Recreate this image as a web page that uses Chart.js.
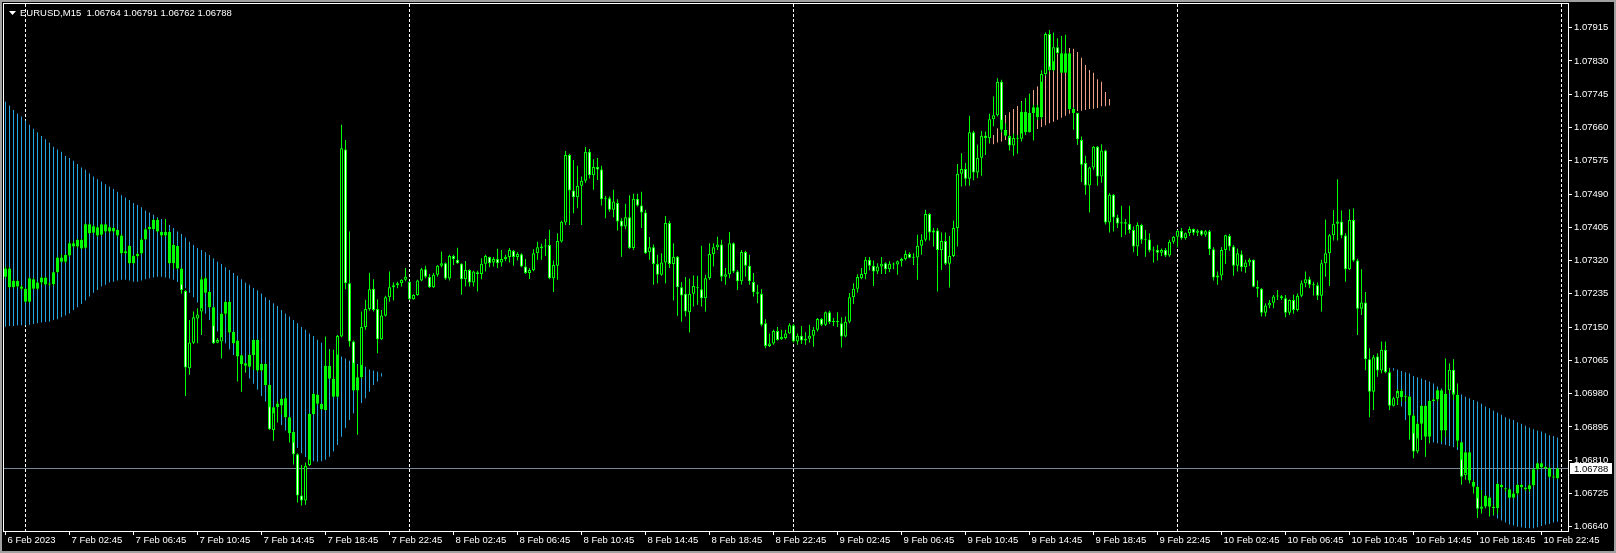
<!DOCTYPE html>
<html><head><meta charset="utf-8">
<script src="https://cdn.jsdelivr.net/npm/chart.js@4.4.1/dist/chart.umd.min.js"></script>
<style>html,body{margin:0;padding:0;background:#000;overflow:hidden}#wrap{width:1616px;height:553px}</style>
</head><body><div id="wrap"><canvas id="c" width="1616" height="553"></canvas></div>
<script>
// ---------------- DATA ----------------
const symbolName = 'EURUSD,M15';
const headerOHLC = [1.06764, 1.06791, 1.06762, 1.06788];
const bidPrice = 1.06788;

const priceTicks = [1.07915,1.07830,1.07745,1.07660,1.07575,1.07490,1.07405,1.07320,1.07235,1.07150,1.07065,1.06980,1.06895,1.06810,1.06725,1.06640];
const timeTickBars = [0,16,32,48,64,80,96,112,128,144,160,176,192,208,224,240,256,272,288,304,320,336,352,368,384];
const timeTickLabels = ['6 Feb 2023','7 Feb 02:45','7 Feb 06:45','7 Feb 10:45','7 Feb 14:45','7 Feb 18:45','7 Feb 22:45','8 Feb 02:45','8 Feb 06:45','8 Feb 10:45','8 Feb 14:45','8 Feb 18:45','8 Feb 22:45','9 Feb 02:45','9 Feb 06:45','9 Feb 10:45','9 Feb 14:45','9 Feb 18:45','9 Feb 22:45','10 Feb 02:45','10 Feb 06:45','10 Feb 10:45','10 Feb 14:45','10 Feb 18:45','10 Feb 22:45'];
const daySeparatorBars = [5,101,197,293,389];

const opens = [
1.07279,1.07300,1.07252,1.07268,1.07254,1.07248,1.07215,1.07272,1.07248,1.07264,
1.07277,1.07259,1.07260,1.07290,1.07328,1.07317,1.07333,1.07364,1.07356,1.07373,
1.07353,1.07413,1.07391,1.07405,1.07386,1.07413,1.07394,1.07403,1.07398,1.07384,
1.07339,1.07358,1.07313,1.07332,1.07338,1.07374,1.07400,1.07401,1.07424,1.07393,
1.07384,1.07393,1.07313,1.07357,1.07300,1.07242,1.07045,1.07110,1.07172,1.07190,
1.07275,1.07240,1.07201,1.07110,1.07113,1.07184,1.07214,1.07138,1.07116,1.07078,
1.07058,1.07049,1.07079,1.07117,1.07039,1.07056,1.07002,1.06887,1.06945,1.06950,
1.06968,1.06920,1.06882,1.06825,1.06720,1.06707,1.06798,1.06928,1.06977,1.06954,
1.06938,1.07051,1.07018,1.06972,1.07126,1.07604,1.07262,1.07113,1.06988,1.07022,
1.07150,1.07196,1.07248,1.07196,1.07119,1.07179,1.07226,1.07252,1.07257,1.07262,
1.07271,1.07266,1.07221,1.07232,1.07269,1.07298,1.07279,1.07252,1.07284,1.07307,
1.07313,1.07274,1.07332,1.07322,1.07312,1.07272,1.07296,1.07264,1.07290,1.07286,
1.07312,1.07329,1.07315,1.07324,1.07315,1.07324,1.07329,1.07345,1.07329,1.07336,
1.07305,1.07288,1.07295,1.07339,1.07352,1.07356,1.07360,1.07275,1.07307,1.07369,
1.07417,1.07590,1.07499,1.07482,1.07511,1.07524,1.07598,1.07538,1.07559,1.07553,
1.07477,1.07479,1.07450,1.07467,1.07422,1.07407,1.07431,1.07352,1.07478,1.07461,
1.07443,1.07341,1.07354,1.07311,1.07284,1.07315,1.07416,1.07311,1.07330,1.07252,
1.07235,1.07188,1.07235,1.07252,1.07247,1.07224,1.07275,1.07337,1.07354,1.07361,
1.07279,1.07285,1.07364,1.07292,1.07267,1.07342,1.07307,1.07265,1.07239,1.07235,
1.07160,1.07102,1.07108,1.07140,1.07119,1.07122,1.07134,1.07155,1.07113,1.07128,
1.07116,1.07120,1.07128,1.07143,1.07171,1.07156,1.07188,1.07163,1.07164,1.07160,
1.07126,1.07164,1.07226,1.07248,1.07275,1.07286,1.07322,1.07307,1.07292,1.07305,
1.07313,1.07298,1.07312,1.07310,1.07318,1.07324,1.07337,1.07327,1.07328,1.07358,
1.07373,1.07439,1.07392,1.07397,1.07347,1.07370,1.07312,1.07332,1.07403,1.07542,
1.07554,1.07529,1.07648,1.07545,1.07583,1.07639,1.07633,1.07681,1.07691,1.07777,
1.07654,1.07639,1.07614,1.07633,1.07631,1.07700,1.07648,1.07697,1.07712,1.07686,
1.07797,1.07899,1.07806,1.07865,1.07850,1.07800,1.07850,1.07707,1.07697,1.07628,
1.07569,1.07512,1.07558,1.07611,1.07535,1.07601,1.07417,1.07488,1.07430,1.07415,
1.07418,1.07414,1.07398,1.07356,1.07411,1.07373,1.07374,1.07346,1.07347,1.07340,
1.07347,1.07333,1.07368,1.07381,1.07396,1.07377,1.07390,1.07401,1.07391,1.07397,
1.07386,1.07395,1.07349,1.07277,1.07282,1.07347,1.07383,1.07356,1.07307,1.07336,
1.07303,1.07315,1.07322,1.07253,1.07248,1.07187,1.07205,1.07212,1.07228,1.07229,
1.07224,1.07187,1.07219,1.07194,1.07230,1.07262,1.07272,1.07258,1.07257,1.07230,
1.07313,1.07339,1.07385,1.07414,1.07420,1.07384,1.07298,1.07424,1.07320,1.07197,
1.07213,1.07068,1.06985,1.07075,1.07039,1.07092,1.07035,1.06949,1.06968,1.06987,
1.06971,1.06973,1.06924,1.06832,1.06903,1.06949,1.06870,1.06961,1.06965,1.06989,
1.06886,1.06989,1.07041,1.06977,1.06856,1.06772,1.06830,1.06755,1.06742,1.06686,
1.06692,1.06715,1.06691,1.06687,1.06747,1.06738,1.06736,1.06714,1.06725,1.06747,
1.06740,1.06736,1.06746,1.06787,1.06802,1.06792,1.06790,1.06768,1.06764];

const highs = [
1.07305,1.07303,1.07271,1.07270,1.07257,1.07250,1.07277,1.07275,1.07266,1.07279,
1.07279,1.07264,1.07292,1.07330,1.07336,1.07336,1.07368,1.07369,1.07375,1.07375,
1.07415,1.07415,1.07411,1.07408,1.07415,1.07415,1.07407,1.07405,1.07400,1.07387,
1.07347,1.07360,1.07334,1.07340,1.07377,1.07403,1.07408,1.07426,1.07428,1.07395,
1.07426,1.07395,1.07363,1.07359,1.07302,1.07245,1.07168,1.07190,1.07198,1.07279,
1.07279,1.07242,1.07202,1.07122,1.07187,1.07217,1.07217,1.07139,1.07117,1.07080,
1.07059,1.07082,1.07119,1.07119,1.07058,1.07058,1.07004,1.06947,1.06960,1.06968,
1.06971,1.06921,1.06884,1.06828,1.06798,1.06804,1.06930,1.06981,1.06979,1.06955,
1.07126,1.07092,1.07092,1.07130,1.07667,1.07628,1.07394,1.07116,1.07053,1.07190,
1.07220,1.07289,1.07272,1.07221,1.07194,1.07230,1.07292,1.07264,1.07266,1.07272,
1.07301,1.07267,1.07234,1.07271,1.07301,1.07307,1.07286,1.07288,1.07309,1.07343,
1.07315,1.07335,1.07335,1.07353,1.07313,1.07319,1.07298,1.07294,1.07294,1.07326,
1.07335,1.07330,1.07329,1.07350,1.07347,1.07335,1.07352,1.07347,1.07341,1.07339,
1.07324,1.07301,1.07349,1.07368,1.07363,1.07375,1.07399,1.07320,1.07390,1.07422,
1.07600,1.07593,1.07577,1.07562,1.07535,1.07610,1.07605,1.07579,1.07582,1.07562,
1.07485,1.07484,1.07501,1.07477,1.07428,1.07465,1.07487,1.07491,1.07491,1.07496,
1.07450,1.07380,1.07361,1.07335,1.07339,1.07434,1.07422,1.07364,1.07332,1.07265,
1.07278,1.07274,1.07282,1.07281,1.07358,1.07284,1.07364,1.07364,1.07381,1.07373,
1.07301,1.07393,1.07366,1.07296,1.07347,1.07345,1.07335,1.07288,1.07258,1.07247,
1.07170,1.07134,1.07143,1.07150,1.07143,1.07143,1.07160,1.07158,1.07134,1.07153,
1.07137,1.07156,1.07150,1.07173,1.07173,1.07190,1.07192,1.07173,1.07188,1.07175,
1.07177,1.07237,1.07262,1.07285,1.07301,1.07329,1.07329,1.07320,1.07313,1.07329,
1.07316,1.07318,1.07315,1.07320,1.07327,1.07346,1.07341,1.07339,1.07386,1.07387,
1.07450,1.07441,1.07403,1.07403,1.07392,1.07392,1.07383,1.07422,1.07567,1.07594,
1.07569,1.07690,1.07652,1.07616,1.07651,1.07650,1.07695,1.07739,1.07786,1.07782,
1.07671,1.07641,1.07645,1.07641,1.07726,1.07735,1.07746,1.07718,1.07718,1.07806,
1.07903,1.07909,1.07903,1.07888,1.07894,1.07897,1.07852,1.07712,1.07698,1.07637,
1.07588,1.07560,1.07613,1.07613,1.07617,1.07603,1.07492,1.07490,1.07437,1.07460,
1.07426,1.07460,1.07407,1.07417,1.07414,1.07398,1.07390,1.07356,1.07360,1.07351,
1.07352,1.07373,1.07383,1.07398,1.07403,1.07392,1.07407,1.07402,1.07400,1.07398,
1.07398,1.07398,1.07354,1.07292,1.07354,1.07386,1.07388,1.07360,1.07351,1.07346,
1.07322,1.07326,1.07323,1.07269,1.07250,1.07211,1.07219,1.07232,1.07245,1.07232,
1.07232,1.07221,1.07233,1.07236,1.07269,1.07292,1.07279,1.07266,1.07264,1.07322,
1.07425,1.07388,1.07449,1.07528,1.07448,1.07390,1.07451,1.07453,1.07325,1.07298,
1.07240,1.07096,1.07079,1.07083,1.07113,1.07113,1.07046,1.06972,1.06991,1.06991,
1.06977,1.06974,1.06928,1.06908,1.06951,1.06951,1.06964,1.06968,1.06991,1.06991,
1.07070,1.07058,1.07068,1.07006,1.06857,1.06832,1.06832,1.06760,1.06745,1.06734,
1.06721,1.06717,1.06696,1.06751,1.06749,1.06740,1.06738,1.06730,1.06749,1.06749,
1.06741,1.06749,1.06789,1.06804,1.06804,1.06795,1.06792,1.06772,1.06791];

const lows = [
1.07275,1.07249,1.07250,1.07251,1.07245,1.07213,1.07213,1.07247,1.07246,1.07259,
1.07257,1.07256,1.07256,1.07288,1.07316,1.07313,1.07330,1.07354,1.07353,1.07350,
1.07351,1.07388,1.07390,1.07381,1.07383,1.07391,1.07391,1.07391,1.07381,1.07336,
1.07336,1.07311,1.07311,1.07326,1.07336,1.07373,1.07398,1.07398,1.07392,1.07381,
1.07381,1.07311,1.07299,1.07298,1.07235,1.06974,1.07028,1.07107,1.07109,1.07130,
1.07236,1.07198,1.07107,1.07109,1.07070,1.07180,1.07134,1.07107,1.07011,1.06985,
1.07034,1.07047,1.07041,1.07036,1.07036,1.07000,1.06887,1.06860,1.06906,1.06926,
1.06917,1.06855,1.06799,1.06702,1.06694,1.06696,1.06795,1.06926,1.06951,1.06938,
1.06937,1.07017,1.06971,1.06971,1.07124,1.07247,1.07100,1.06986,1.06875,1.07019,
1.07143,1.07192,1.07190,1.07083,1.07117,1.07177,1.07215,1.07218,1.07249,1.07254,
1.07267,1.07220,1.07220,1.07230,1.07267,1.07275,1.07250,1.07250,1.07279,1.07303,
1.07271,1.07269,1.07309,1.07312,1.07233,1.07254,1.07254,1.07254,1.07241,1.07272,
1.07292,1.07303,1.07305,1.07301,1.07305,1.07318,1.07315,1.07307,1.07320,1.07303,
1.07286,1.07273,1.07293,1.07322,1.07322,1.07332,1.07272,1.07240,1.07271,1.07366,
1.07411,1.07411,1.07441,1.07454,1.07411,1.07519,1.07530,1.07501,1.07526,1.07461,
1.07428,1.07445,1.07431,1.07397,1.07330,1.07400,1.07350,1.07347,1.07458,1.07403,
1.07337,1.07322,1.07258,1.07262,1.07281,1.07262,1.07301,1.07218,1.07179,1.07164,
1.07177,1.07136,1.07203,1.07207,1.07203,1.07190,1.07271,1.07305,1.07347,1.07267,
1.07258,1.07275,1.07288,1.07245,1.07258,1.07279,1.07258,1.07228,1.07211,1.07152,
1.07096,1.07099,1.07105,1.07116,1.07117,1.07119,1.07133,1.07111,1.07105,1.07107,
1.07105,1.07111,1.07100,1.07139,1.07153,1.07153,1.07158,1.07153,1.07150,1.07098,
1.07124,1.07160,1.07209,1.07238,1.07272,1.07272,1.07295,1.07255,1.07286,1.07286,
1.07286,1.07290,1.07298,1.07284,1.07305,1.07320,1.07326,1.07309,1.07271,1.07335,
1.07369,1.07371,1.07356,1.07241,1.07296,1.07309,1.07251,1.07329,1.07356,1.07509,
1.07511,1.07511,1.07525,1.07531,1.07537,1.07590,1.07620,1.07663,1.07688,1.07647,
1.07637,1.07601,1.07588,1.07593,1.07624,1.07641,1.07647,1.07627,1.07680,1.07681,
1.07792,1.07803,1.07804,1.07847,1.07799,1.07799,1.07705,1.07654,1.07616,1.07521,
1.07488,1.07443,1.07552,1.07511,1.07519,1.07412,1.07392,1.07394,1.07403,1.07380,
1.07386,1.07390,1.07341,1.07332,1.07363,1.07330,1.07341,1.07315,1.07320,1.07332,
1.07329,1.07330,1.07363,1.07354,1.07373,1.07373,1.07383,1.07385,1.07383,1.07383,
1.07381,1.07334,1.07269,1.07258,1.07270,1.07311,1.07345,1.07281,1.07292,1.07292,
1.07289,1.07306,1.07252,1.07226,1.07177,1.07177,1.07198,1.07198,1.07219,1.07219,
1.07175,1.07181,1.07184,1.07190,1.07226,1.07252,1.07249,1.07231,1.07219,1.07190,
1.07279,1.07255,1.07371,1.07371,1.07377,1.07266,1.07296,1.07317,1.07130,1.07181,
1.07040,1.06920,1.06938,1.07023,1.07032,1.07032,1.06938,1.06947,1.06951,1.06960,
1.06960,1.06862,1.06815,1.06828,1.06862,1.06819,1.06853,1.06960,1.06960,1.06857,
1.06870,1.06981,1.06964,1.06843,1.06747,1.06760,1.06751,1.06725,1.06662,1.06674,
1.06687,1.06666,1.06670,1.06673,1.06738,1.06730,1.06713,1.06713,1.06721,1.06738,
1.06732,1.06730,1.06742,1.06785,1.06789,1.06787,1.06766,1.06764,1.06762];

const closes = [
1.07300,1.07252,1.07268,1.07254,1.07248,1.07215,1.07275,1.07248,1.07264,1.07277,
1.07259,1.07260,1.07290,1.07328,1.07317,1.07334,1.07364,1.07356,1.07373,1.07351,
1.07413,1.07390,1.07408,1.07384,1.07413,1.07394,1.07405,1.07394,1.07384,1.07339,
1.07344,1.07313,1.07332,1.07337,1.07374,1.07400,1.07406,1.07424,1.07394,1.07384,
1.07393,1.07313,1.07360,1.07300,1.07245,1.07047,1.07111,1.07175,1.07182,1.07272,
1.07238,1.07201,1.07109,1.07117,1.07184,1.07214,1.07136,1.07109,1.07075,1.07056,
1.07051,1.07079,1.07117,1.07039,1.07056,1.07002,1.06889,1.06945,1.06955,1.06967,
1.06920,1.06879,1.06825,1.06720,1.06707,1.06796,1.06928,1.06979,1.06954,1.06940,
1.07051,1.07018,1.06972,1.07127,1.07607,1.07262,1.07113,1.06988,1.07022,1.07150,
1.07196,1.07247,1.07194,1.07119,1.07180,1.07226,1.07252,1.07257,1.07262,1.07271,
1.07279,1.07221,1.07232,1.07269,1.07298,1.07279,1.07252,1.07284,1.07307,1.07313,
1.07274,1.07332,1.07324,1.07313,1.07272,1.07296,1.07264,1.07292,1.07286,1.07312,
1.07332,1.07313,1.07324,1.07313,1.07324,1.07330,1.07347,1.07329,1.07337,1.07305,
1.07288,1.07296,1.07339,1.07354,1.07356,1.07358,1.07275,1.07309,1.07370,1.07419,
1.07590,1.07499,1.07482,1.07511,1.07524,1.07598,1.07538,1.07559,1.07553,1.07477,
1.07479,1.07450,1.07471,1.07420,1.07407,1.07431,1.07352,1.07478,1.07461,1.07443,
1.07339,1.07354,1.07311,1.07284,1.07315,1.07416,1.07311,1.07330,1.07252,1.07231,
1.07190,1.07235,1.07255,1.07249,1.07224,1.07275,1.07337,1.07354,1.07361,1.07279,
1.07285,1.07364,1.07292,1.07267,1.07342,1.07307,1.07267,1.07239,1.07235,1.07156,
1.07102,1.07108,1.07140,1.07117,1.07125,1.07134,1.07155,1.07113,1.07128,1.07116,
1.07120,1.07128,1.07143,1.07171,1.07156,1.07188,1.07163,1.07164,1.07163,1.07126,
1.07164,1.07226,1.07248,1.07278,1.07286,1.07322,1.07307,1.07292,1.07305,1.07312,
1.07298,1.07312,1.07310,1.07318,1.07324,1.07337,1.07327,1.07328,1.07358,1.07373,
1.07439,1.07392,1.07397,1.07347,1.07370,1.07312,1.07332,1.07403,1.07542,1.07554,
1.07529,1.07648,1.07545,1.07583,1.07639,1.07633,1.07681,1.07691,1.07777,1.07654,
1.07639,1.07614,1.07633,1.07631,1.07700,1.07648,1.07697,1.07712,1.07686,1.07797,
1.07899,1.07806,1.07865,1.07850,1.07800,1.07850,1.07707,1.07697,1.07630,1.07565,
1.07512,1.07558,1.07611,1.07535,1.07601,1.07417,1.07488,1.07430,1.07415,1.07418,
1.07414,1.07398,1.07356,1.07411,1.07373,1.07374,1.07346,1.07347,1.07340,1.07347,
1.07333,1.07368,1.07381,1.07396,1.07377,1.07390,1.07401,1.07391,1.07397,1.07386,
1.07395,1.07349,1.07277,1.07282,1.07347,1.07385,1.07356,1.07307,1.07339,1.07303,
1.07315,1.07322,1.07253,1.07248,1.07187,1.07205,1.07212,1.07228,1.07229,1.07224,
1.07187,1.07219,1.07194,1.07230,1.07262,1.07272,1.07258,1.07257,1.07230,1.07313,
1.07339,1.07385,1.07414,1.07420,1.07384,1.07298,1.07424,1.07320,1.07197,1.07213,
1.07068,1.06985,1.07073,1.07039,1.07092,1.07035,1.06949,1.06968,1.06987,1.06971,
1.06973,1.06924,1.06832,1.06903,1.06949,1.06870,1.06961,1.06965,1.06989,1.06886,
1.06979,1.07041,1.06977,1.06860,1.06768,1.06830,1.06758,1.06742,1.06686,1.06692,
1.06719,1.06691,1.06687,1.06749,1.06741,1.06736,1.06714,1.06725,1.06747,1.06741,
1.06736,1.06746,1.06787,1.06802,1.06792,1.06790,1.06768,1.06766,1.06788];

// indicator histogram bands (upper / lower per bar, starting at given bar index)
const blueLeftStart = 0;
const blueLeftUpper = [
1.07726,1.07716,1.07705,1.07696,1.07688,1.07678,1.07667,1.07657,1.07648,1.07638,
1.07630,1.07621,1.07611,1.07604,1.07598,1.07587,1.07582,1.07575,1.07567,1.07558,
1.07552,1.07543,1.07535,1.07528,1.07522,1.07515,1.07509,1.07503,1.07496,1.07487,
1.07481,1.07475,1.07467,1.07462,1.07456,1.07448,1.07443,1.07437,1.07431,1.07426,
1.07420,1.07411,1.07403,1.07394,1.07388,1.07379,1.07368,1.07360,1.07352,1.07347,
1.07341,1.07334,1.07326,1.07317,1.07311,1.07303,1.07296,1.07288,1.07281,1.07272,
1.07264,1.07258,1.07250,1.07244,1.07236,1.07226,1.07219,1.07211,1.07204,1.07194,
1.07185,1.07177,1.07168,1.07160,1.07150,1.07143,1.07134,1.07127,1.07118,1.07110,
1.07102,1.07094,1.07087,1.07080,1.07075,1.07070,1.07064,1.07059,1.07056,1.07053,
1.07049,1.07042,1.07039,1.07036,1.07032];
const blueLeftLower = [
1.07151,1.07153,1.07153,1.07154,1.07155,1.07155,1.07156,1.07158,1.07160,1.07162,
1.07163,1.07164,1.07168,1.07170,1.07175,1.07180,1.07185,1.07194,1.07201,1.07209,
1.07218,1.07228,1.07238,1.07245,1.07254,1.07258,1.07264,1.07266,1.07269,1.07271,
1.07271,1.07269,1.07266,1.07266,1.07269,1.07272,1.07275,1.07277,1.07279,1.07279,
1.07277,1.07274,1.07271,1.07265,1.07258,1.07249,1.07238,1.07226,1.07213,1.07198,
1.07184,1.07168,1.07153,1.07139,1.07124,1.07109,1.07093,1.07079,1.07064,1.07049,
1.07034,1.07019,1.07005,1.06990,1.06974,1.06960,1.06945,1.06930,1.06915,1.06900,
1.06886,1.06870,1.06855,1.06841,1.06828,1.06818,1.06811,1.06807,1.06806,1.06807,
1.06811,1.06819,1.06832,1.06849,1.06870,1.06892,1.06913,1.06930,1.06943,1.06956,
1.06968,1.06985,1.07002,1.07011,1.07024];

const orangeStart = 246;
const orangeUpper = [
1.07630,1.07641,1.07658,1.07680,1.07692,1.07699,1.07707,1.07715,1.07728,1.07735,
1.07746,1.07756,1.07765,1.07777,1.07799,1.07816,1.07829,1.07850,1.07854,1.07858,
1.07863,1.07861,1.07853,1.07838,1.07820,1.07807,1.07800,1.07783,1.07777,1.07751,
1.07733];
const orangeLower = [
1.07620,1.07617,1.07622,1.07624,1.07628,1.07633,1.07637,1.07641,1.07645,1.07647,
1.07650,1.07654,1.07656,1.07661,1.07666,1.07671,1.07675,1.07680,1.07685,1.07690,
1.07695,1.07698,1.07702,1.07703,1.07705,1.07707,1.07708,1.07710,1.07714,1.07714,
1.07716];

const blueRightStart = 347;
const blueRightUpper = [
1.07045,1.07041,1.07038,1.07035,1.07032,1.07025,1.07022,1.07019,1.07015,1.07011,
1.07006,1.06998,1.06993,1.06989,1.06985,1.06983,1.06981,1.06978,1.06972,1.06968,
1.06964,1.06960,1.06954,1.06947,1.06943,1.06937,1.06932,1.06926,1.06920,1.06916,
1.06913,1.06907,1.06903,1.06898,1.06893,1.06889,1.06886,1.06883,1.06879,1.06874,
1.06872,1.06868];
const blueRightLower = [
1.07039,1.06981,1.06947,1.06913,1.06896,1.06879,1.06866,1.06862,1.06860,1.06857,
1.06855,1.06853,1.06851,1.06849,1.06846,1.06843,1.06836,1.06811,1.06777,1.06751,
1.06730,1.06713,1.06700,1.06687,1.06676,1.06668,1.06661,1.06656,1.06651,1.06646,
1.06643,1.06640,1.06639,1.06637,1.06636,1.06636,1.06639,1.06642,1.06645,1.06647,
1.06651,1.06653];

// ---------------- STYLE ----------------
const LIME = '#00ff00';
const BLUE = '#25a4e2';
const SALMON = '#efa184';
const FONT = '"Liberation Sans", Arial, sans-serif';
const FS = 9.5;

// ---------------- BUILD ----------------
const N = closes.length;
const idx = Array.from({length: N}, (_, i) => i);
const bodyData = idx.map(i => ({x: i, y: [opens[i], closes[i]]}));
const wickData = idx.map(i => ({x: i, y: [lows[i], highs[i]]}));
const bodyColors = idx.map(i => closes[i] >= opens[i] ? '#000000' : '#ffffff');

const bands = [
  {start: blueLeftStart, lo: blueLeftLower, hi: blueLeftUpper, color: BLUE},
  {start: orangeStart, lo: orangeLower, hi: orangeUpper, color: SALMON},
  {start: blueRightStart, lo: blueRightLower, hi: blueRightUpper, color: BLUE}
];
const bandDatasets = bands.map((b, n) => ({
  label: 'band' + n,
  data: b.lo.map((v, k) => ({x: b.start + k, y: [v, b.hi[k]]})),
  backgroundColor: b.color, borderWidth: 0, barThickness: 1, order: 4
}));
const overlapData = [];
bands.forEach(b => {
  b.lo.forEach((v, k) => {
    const i = b.start + k;
    if (i >= N) return;
    const lo = Math.max(Math.min(opens[i], closes[i]), v);
    const hi = Math.min(Math.max(opens[i], closes[i]), b.hi[k]);
    if (hi > lo) overlapData.push({x: i, y: [lo, hi]});
  });
});

const yTop = 1.0797555, yBottom = 1.066291;

const deco = {
  id: 'deco',
  beforeDraw(chart) {
    const ctx = chart.ctx;
    ctx.save(); ctx.fillStyle = '#000'; ctx.fillRect(0, 0, chart.width, chart.height); ctx.restore();
  },
  beforeDatasetsDraw(chart) {
    const {ctx, chartArea: a, scales: {x, y}} = chart;
    ctx.save();
    ctx.lineWidth = 1;
    ctx.strokeStyle = '#ffffff';
    ctx.setLineDash([3, 2]);
    daySeparatorBars.forEach(b => {
      const px = Math.floor(x.getPixelForValue(b)) + 0.5;
      ctx.beginPath(); ctx.moveTo(px, a.top); ctx.lineTo(px, a.bottom); ctx.stroke();
    });
    ctx.setLineDash([]);
    const py = Math.floor(y.getPixelForValue(bidPrice)) + 0.5;
    ctx.strokeStyle = '#778899';
    ctx.beginPath(); ctx.moveTo(a.left, py); ctx.lineTo(a.right, py); ctx.stroke();
    ctx.restore();
  },
  afterDraw(chart) {
    const {ctx, chartArea: a, scales: {y}} = chart;
    ctx.save();
    // outer window frame
    ctx.strokeStyle = '#a0a0a0'; ctx.lineWidth = 2;
    ctx.strokeRect(1, 1, chart.width - 2, chart.height - 2);
    // plot frame
    ctx.strokeStyle = '#ffffff'; ctx.lineWidth = 1;
    ctx.strokeRect(3.5, 3.5, a.right - 3, a.bottom - 3);
    // header
    ctx.fillStyle = '#ffffff';
    ctx.beginPath(); ctx.moveTo(9, 11); ctx.lineTo(16, 11); ctx.lineTo(12.5, 15); ctx.closePath(); ctx.fill();
    ctx.font = FS + 'px ' + FONT;
    ctx.textBaseline = 'middle'; ctx.textAlign = 'left';
    ctx.fillText(symbolName + '  ' + headerOHLC.map(v => v.toFixed(5)).join(' '), 20, 13);
    // bid price label
    const py = Math.floor(y.getPixelForValue(bidPrice)) + 0.5;
    ctx.fillStyle = '#ffffff';
    ctx.fillRect(a.right + 2, py - 5.5, 42, 11);
    ctx.fillStyle = '#000000';
    ctx.fillText(bidPrice.toFixed(5), a.right + 6, py + 0.5);
    ctx.restore();
  }
};

new Chart(document.getElementById('c'), {
  type: 'bar',
  data: {
    datasets: [
      {label: 'overlap', data: overlapData, backgroundColor: LIME, borderWidth: 0, barThickness: 1, order: 1},
      {label: 'body', data: bodyData, backgroundColor: bodyColors, borderColor: LIME, borderWidth: 1, barThickness: 3, minBarLength: 1, order: 2},
      {label: 'wick', data: wickData, backgroundColor: LIME, borderWidth: 0, barThickness: 1, order: 3},
      ...bandDatasets
    ]
  },
  options: {
    responsive: false, animation: false, events: [], devicePixelRatio: 1,
    datasets: {bar: {grouped: false, borderSkipped: false, inflateAmount: 0}},
    layout: {padding: {left: 4, top: 4, right: 0, bottom: 0}},
    plugins: {legend: {display: false}, tooltip: {enabled: false}, title: {display: false}},
    scales: {
      x: {
        type: 'linear', position: 'bottom', min: -0.375, max: 390.625, offset: false, bounds: 'data',
        afterBuildTicks: s => { s.ticks = timeTickBars.map(v => ({value: v})); },
        afterFit: s => { s.height = 22; s.paddingLeft = 0; s.paddingRight = 0; },
        ticks: {autoSkip: false, maxRotation: 0, minRotation: 0, align: 'start', labelOffset: 2, padding: 0,
          color: '#ffffff', font: {family: FONT, size: FS}, callback: (v, i) => timeTickLabels[i]},
        grid: {display: true, drawOnChartArea: false, drawTicks: true, tickLength: 4, tickColor: '#ffffff', color: '#ffffff', offset: false},
        border: {display: false}
      },
      y: {
        type: 'linear', position: 'right', min: yBottom, max: yTop, bounds: 'data', beginAtZero: false,
        afterBuildTicks: s => { s.ticks = priceTicks.map(v => ({value: v})); },
        afterFit: s => { s.width = 48; s.paddingTop = 0; s.paddingBottom = 0; },
        ticks: {autoSkip: false, padding: 2, color: '#ffffff', font: {family: FONT, size: FS}, callback: v => v.toFixed(5)},
        grid: {display: true, drawOnChartArea: false, drawTicks: true, tickLength: 4, tickColor: '#ffffff', color: '#ffffff'},
        border: {display: false}
      }
    }
  },
  plugins: [deco]
});
</script>
</body></html>
